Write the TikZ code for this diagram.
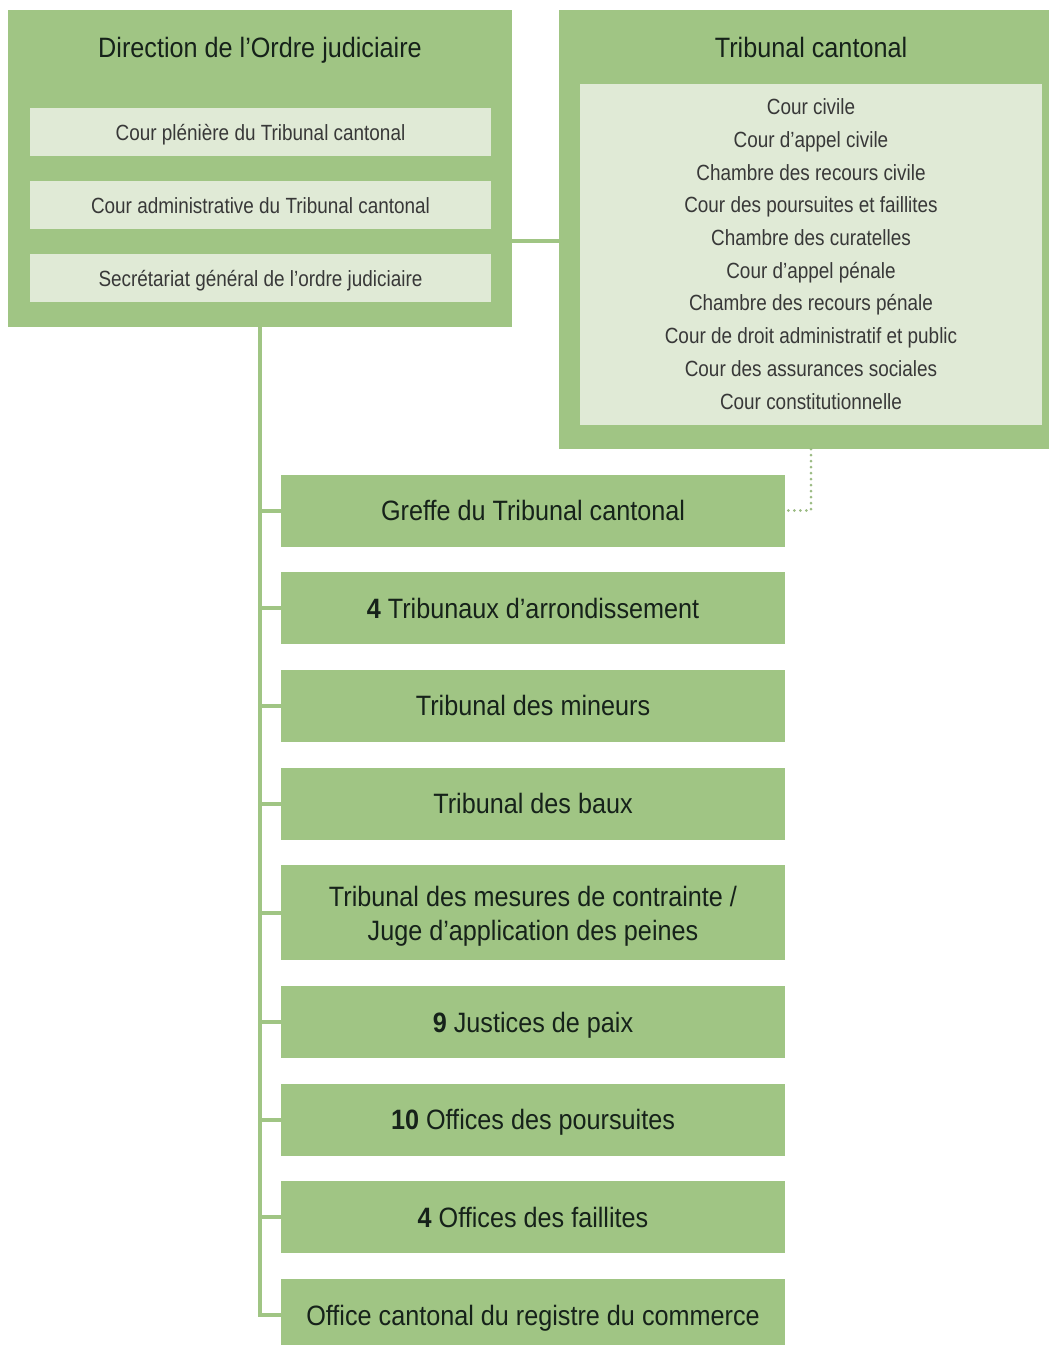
\documentclass[tikz,border=0pt]{standalone}
\usepackage{fontspec}
\setmainfont{Liberation Sans}[FakeStretch=0.86]
\newfontfamily\headfont{Liberation Sans}[FakeStretch=0.9]
\usetikzlibrary{positioning}
\definecolor{leaf}{HTML}{A0C584}
\definecolor{pale}{HTML}{E0EAD6}
\definecolor{ink}{HTML}{16221A}
\definecolor{soft}{HTML}{383838}

\begin{document}
\begin{tikzpicture}[x=1pt, y=-1pt,
    frame/.style={fill=leaf, inner sep=0pt},
    block/.style={fill=leaf, inner sep=0pt, minimum width=504pt, minimum height=72pt,
      text=ink, align=center, text height=20pt, text depth=0pt,
      font=\headfont\fontsize{28}{34}\selectfont},
    title/.style={text=ink, inner sep=0pt, text height=20pt, text depth=0pt,
      font=\headfont\fontsize{28}{34}\selectfont},
    sub/.style={fill=pale, inner sep=0pt, minimum width=461pt, minimum height=48pt,
      text=soft, text height=16pt, text depth=0pt, font=\fontsize{22}{26}\selectfont},
    link/.style={draw=leaf, line width=4pt},
    dotlink/.style={draw=leaf!85!gray, line width=3pt, line cap=round, dash pattern=on 0pt off 6pt}]
      \clip (0,0) rectangle (1049,1345);

      % Direction de l'Ordre judiciaire
      \node[frame, minimum width=504pt, minimum height=317pt] (dir) at (260,168.5) {};
      \node[title] (dirtitle) at (260,47) {Direction de l’Ordre judiciaire};
      \node[sub] (pleniere) at (260.5,132) {Cour plénière du Tribunal cantonal};
      \node[sub] (admin) at (260.5,205) {Cour administrative du Tribunal cantonal};
      \node[sub] (secretariat) at (260.5,278) {Secrétariat général de l’ordre judiciaire};

      % Tribunal cantonal
      \node[frame, minimum width=490pt, minimum height=439pt] (tc) at (804,229.5) {};
      \node[title] (tctitle) at (811,47) {Tribunal cantonal};
      \node[sub, minimum width=462pt, minimum height=341pt, align=center, text height=309pt,
        font=\fontsize{22}{32.7}\selectfont] (tcin) at (811,254.5)
        {Cour civile\\Cour d’appel civile\\Chambre des recours civile\\
         Cour des poursuites et faillites\\Chambre des curatelles\\Cour d’appel pénale\\
         Chambre des recours pénale\\Cour de droit administratif et public\\
         Cour des assurances sociales\\Cour constitutionnelle};

      % offices
      \node[block] (greffe) at (533,510.5) {Greffe du Tribunal cantonal};
      \node[block, below=25.3pt of greffe] (arr) {{\bfseries 4} Tribunaux d’arrondissement};
      \node[block, below=25.3pt of arr] (mineurs) {Tribunal des mineurs};
      \node[block, below=25.3pt of mineurs] (baux) {Tribunal des baux};
      \node[block, below=25.3pt of baux, minimum height=95pt, text height=55pt] (mesures)
        {Tribunal des mesures de contrainte /\\Juge d’application des peines};
      \node[block, below=25.3pt of mesures] (paix) {{\bfseries 9} Justices de paix};
      \node[block, below=25.3pt of paix] (poursuites) {{\bfseries 10} Offices des poursuites};
      \node[block, below=25.3pt of poursuites] (faillites) {{\bfseries 4} Offices des faillites};
      \node[block, below=25.3pt of faillites] (registre) {Office cantonal du registre du commerce};

      \coordinate (bridge) at (512,241);
      \draw[link] (bridge) -- (bridge -| tc.west);
      \draw[dotlink] (tcin.center |- tc.south) |- (greffe.east);

      \draw[link] (dir.south) |- (registre.west);
      \draw[link] (greffe.west) -- (greffe.west -| dir.south);
      \draw[link] (arr.west) -- (arr.west -| dir.south);
      \draw[link] (mineurs.west) -- (mineurs.west -| dir.south);
      \draw[link] (baux.west) -- (baux.west -| dir.south);
      \draw[link] (mesures.west) -- (mesures.west -| dir.south);
      \draw[link] (paix.west) -- (paix.west -| dir.south);
      \draw[link] (poursuites.west) -- (poursuites.west -| dir.south);
      \draw[link] (faillites.west) -- (faillites.west -| dir.south);
    \end{tikzpicture}
\end{document}
